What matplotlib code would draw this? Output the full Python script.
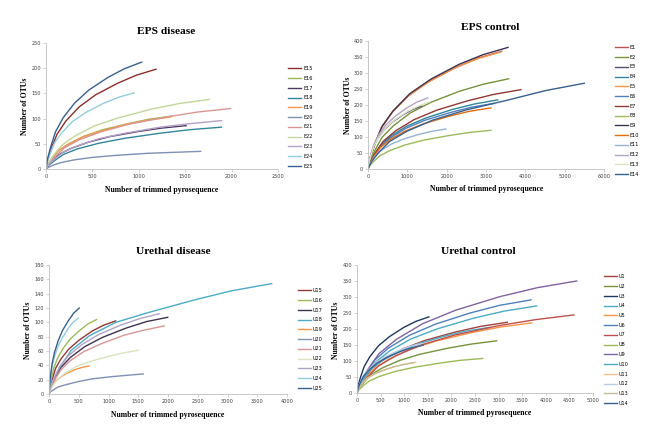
import matplotlib
matplotlib.use('Agg')
import matplotlib.pyplot as plt

# EPS disease
eps_dis_labels = ['E15', 'E16', 'E17', 'E18', 'E19', 'E20', 'E21', 'E22', 'E23', 'E24', 'E25']
eps_dis_colors = ['#8B2E2A', '#9BBB59', '#4D3B62', '#31859C', '#F79646', '#7F8FB5',
                  '#D99694', '#C3D69B', '#B3A2C7', '#93CDDD', '#376092']
eps_dis_x = [[0, 18, 59, 119, 213, 356, 533, 770, 972, 1185],
             [0, 20, 68, 136, 245, 408, 612, 884, 1115, 1360],
             [0, 23, 76, 151, 272, 453, 680, 982, 1238, 1510],
             [0, 28, 95, 189, 340, 567, 851, 1229, 1550, 1890],
             [0, 20, 67, 134, 241, 402, 603, 871, 1099, 1340],
             [0, 25, 83, 167, 300, 500, 750, 1084, 1367, 1667],
             [0, 30, 100, 199, 358, 597, 896, 1294, 1632, 1990],
             [0, 26, 88, 176, 316, 527, 790, 1141, 1440, 1756],
             [0, 28, 95, 189, 341, 568, 852, 1230, 1552, 1893],
             [0, 14, 47, 95, 171, 284, 427, 616, 777, 948],
             [0, 15, 52, 103, 186, 309, 464, 670, 845, 1031]]
eps_dis_y = [[0, 18, 42, 69, 95, 123, 147, 170, 186, 198],
             [0, 9, 22, 37, 50, 65, 78, 90, 99, 105],
             [0, 8, 18, 30, 41, 53, 64, 74, 81, 86],
             [0, 7, 17, 29, 40, 51, 61, 71, 78, 83],
             [0, 9, 22, 36, 49, 64, 76, 89, 97, 103],
             [0, 3, 8, 13, 18, 23, 27, 31, 33, 35],
             [0, 11, 25, 42, 58, 74, 89, 103, 113, 120],
             [0, 12, 29, 48, 66, 86, 102, 119, 130, 138],
             [0, 9, 20, 34, 46, 60, 71, 83, 90, 96],
             [0, 14, 32, 53, 72, 94, 112, 130, 142, 151],
             [0, 19, 45, 74, 102, 131, 157, 182, 199, 212]]

# EPS control
eps_con_labels = ['E1', 'E2', 'E3', 'E4', 'E5', 'E6', 'E7', 'E8', 'E9', 'E10', 'E11', 'E12', 'E13', 'E14']
eps_con_colors = ['#C0504D', '#77933C', '#604A7B', '#31859C', '#F79646', '#4F81BD', '#953735',
                  '#9BBB59', '#403152', '#E46C0A', '#95B3D7', '#B3A2C7', '#D7E4BD', '#376092']
eps_con_x = [[0, 51, 170, 340, 612, 1020, 1530, 2210, 2788, 3400],
             [0, 54, 179, 358, 644, 1073, 1610, 2325, 2933, 3577],
             [0, 20, 68, 137, 246, 410, 614, 887, 1119, 1365],
             [0, 49, 165, 330, 593, 989, 1484, 2143, 2704, 3297],
             [0, 51, 169, 338, 608, 1014, 1521, 2197, 2772, 3380],
             [0, 48, 160, 320, 576, 960, 1440, 2080, 2624, 3200],
             [0, 58, 195, 389, 700, 1167, 1751, 2529, 3190, 3890],
             [0, 47, 156, 313, 563, 938, 1407, 2033, 2564, 3127],
             [0, 53, 178, 356, 641, 1068, 1602, 2314, 2919, 3560],
             [0, 47, 156, 313, 563, 938, 1407, 2033, 2564, 3127],
             [0, 30, 99, 198, 357, 595, 892, 1289, 1626, 1983],
             [0, 23, 76, 152, 273, 455, 683, 986, 1244, 1517],
             [0, 23, 78, 155, 279, 465, 698, 1008, 1272, 1551],
             [0, 83, 275, 550, 990, 1650, 2475, 3575, 4510, 5500]]
eps_con_y = [[0, 33, 77, 129, 177, 228, 272, 316, 346, 368],
             [0, 25, 59, 99, 135, 175, 209, 243, 265, 282],
             [0, 18, 41, 69, 95, 122, 146, 169, 185, 197],
             [0, 19, 45, 76, 104, 134, 160, 186, 203, 216],
             [0, 33, 77, 128, 176, 227, 271, 315, 344, 366],
             [0, 18, 43, 72, 98, 127, 152, 176, 193, 205],
             [0, 22, 52, 87, 119, 154, 184, 213, 233, 248],
             [0, 11, 25, 42, 58, 75, 90, 104, 114, 121],
             [0, 34, 80, 133, 182, 236, 281, 327, 357, 380],
             [0, 17, 40, 67, 92, 118, 141, 164, 180, 191],
             [0, 11, 26, 44, 60, 78, 93, 108, 118, 125],
             [0, 20, 47, 78, 107, 138, 164, 191, 209, 222],
             [0, 19, 44, 73, 100, 130, 155, 180, 196, 209],
             [0, 22, 52, 86, 118, 153, 184, 216, 245, 268]]

# Urethal disease
ure_dis_labels = ['U15', 'U16', 'U17', 'U18', 'U19', 'U20', 'U21', 'U22', 'U23', 'U24', 'U25']
ure_dis_colors = ['#953735', '#9BBB59', '#403152', '#4BACC6', '#F79646', '#7F8FB5',
                  '#D99694', '#D7E4BD', '#B3A2C7', '#93CDDD', '#376092']
ure_dis_x = [[0, 17, 56, 112, 202, 336, 504, 728, 918, 1120],
             [0, 12, 40, 80, 144, 240, 360, 521, 657, 801],
             [0, 30, 100, 200, 359, 599, 898, 1297, 1636, 1995],
             [0, 56, 187, 374, 674, 1123, 1684, 2432, 3068, 3742],
             [0, 10, 34, 67, 121, 202, 302, 437, 551, 672],
             [0, 24, 79, 159, 285, 476, 713, 1030, 1300, 1585],
             [0, 29, 97, 194, 349, 581, 872, 1260, 1589, 1938],
             [0, 23, 75, 150, 270, 450, 675, 976, 1231, 1501],
             [0, 28, 93, 185, 333, 555, 833, 1203, 1517, 1850],
             [0, 7, 25, 49, 89, 148, 222, 320, 404, 493],
             [0, 8, 25, 51, 92, 153, 229, 331, 417, 509]]
ure_dis_y = [[0, 9, 21, 36, 49, 63, 75, 88, 96, 102],
             [0, 9, 22, 36, 50, 64, 77, 89, 98, 104],
             [0, 10, 22, 37, 51, 66, 79, 92, 101, 107],
             [0, 17, 38, 61, 81, 100, 114, 131, 144, 154],
             [0, 4, 8, 14, 19, 24, 29, 34, 37, 39],
             [0, 3, 6, 10, 13, 17, 21, 24, 26, 28],
             [0, 9, 20, 33, 46, 59, 70, 82, 89, 95],
             [0, 5, 13, 21, 29, 38, 45, 52, 57, 61],
             [0, 10, 24, 39, 54, 69, 83, 96, 105, 112],
             [0, 10, 22, 37, 51, 66, 78, 91, 100, 106],
             [0, 11, 25, 42, 58, 74, 89, 103, 113, 120]]

# Urethal control
ure_con_labels = ['U1', 'U2', 'U3', 'U4', 'U5', 'U6', 'U7', 'U8', 'U9', 'U10', 'U11', 'U12', 'U13', 'U14']
ure_con_colors = ['#A0413D', '#77933C', '#1F3864', '#4BACC6', '#F79646', '#4F81BD', '#C0504D',
                  '#9BBB59', '#8064A2', '#4BACC6', '#FAC090', '#B9CDE5', '#C4BD97', '#376092']
ure_con_x = [[0, 48, 159, 319, 573, 956, 1433, 2070, 2612, 3185],
             [0, 44, 148, 296, 533, 888, 1332, 1923, 2426, 2959],
             [0, 23, 76, 153, 275, 458, 686, 991, 1251, 1525],
             [0, 42, 140, 280, 503, 839, 1259, 1818, 2294, 2797],
             [0, 56, 185, 370, 666, 1110, 1665, 2405, 3034, 3700],
             [0, 55, 184, 369, 663, 1106, 1659, 2396, 3023, 3686],
             [0, 69, 230, 460, 827, 1379, 2069, 2988, 3770, 4597],
             [0, 40, 133, 266, 479, 799, 1198, 1731, 2184, 2663],
             [0, 70, 233, 465, 838, 1396, 2094, 3025, 3816, 4654],
             [0, 57, 190, 381, 685, 1142, 1713, 2474, 3121, 3806],
             [0, 19, 62, 124, 224, 373, 560, 809, 1020, 1244],
             [0, 21, 69, 137, 247, 411, 617, 891, 1123, 1370],
             [0, 18, 60, 120, 216, 360, 540, 780, 984, 1200],
             [0, 21, 70, 140, 252, 420, 630, 910, 1148, 1400]]
ure_con_y = [[0, 20, 46, 77, 106, 137, 164, 190, 208, 221],
             [0, 15, 34, 57, 78, 101, 121, 140, 153, 163],
             [0, 21, 50, 83, 114, 148, 176, 205, 224, 238],
             [0, 18, 43, 72, 98, 127, 152, 176, 193, 205],
             [0, 20, 46, 77, 105, 136, 162, 188, 206, 219],
             [0, 26, 61, 102, 140, 180, 215, 250, 274, 291],
             [0, 22, 51, 85, 117, 151, 181, 210, 229, 244],
             [0, 10, 23, 38, 52, 67, 80, 93, 102, 108],
             [0, 32, 74, 123, 168, 217, 259, 301, 329, 350],
             [0, 24, 57, 95, 131, 169, 201, 234, 256, 272],
             [0, 9, 20, 34, 46, 60, 71, 83, 90, 96],
             [0, 14, 33, 54, 74, 96, 115, 133, 146, 155],
             [0, 9, 20, 33, 46, 59, 70, 82, 89, 95],
             [0, 14, 32, 53, 72, 93, 111, 129, 141, 150]]

serif = ['Liberation Serif', 'DejaVu Serif']
W, H = 646, 442

fig = plt.figure(figsize=(W / 100, H / 100), dpi=100)

panels = [
    # title, labels, colors, xs, ys, axes box (px), xmax, xstep, ymax, ystep, title pos, xlabel pos, ylabel pos, legend pos
    ('EPS disease', eps_dis_labels, eps_dis_colors, eps_dis_x, eps_dis_y,
     (46, 43, 278, 169), 2500, 500, 250, 50, (166, 32), (162, 190), (25, 106), (288, 66)),
    ('EPS control', eps_con_labels, eps_con_colors, eps_con_x, eps_con_y,
     (368, 41, 604, 169), 6000, 1000, 400, 50, (490, 28), (487, 189), (348, 105), (615, 45)),
    ('Urethal disease', ure_dis_labels, ure_dis_colors, ure_dis_x, ure_dis_y,
     (49, 265, 287, 394), 4000, 500, 180, 20, (173, 252), (168, 415), (28, 330), (298, 288)),
    ('Urethal control', ure_con_labels, ure_con_colors, ure_con_x, ure_con_y,
     (357, 265, 593, 393), 5000, 500, 400, 50, (478, 252), (475, 413), (336, 330), (604, 274)),
]

for (title, labels, colors, xs, ys, box, xmax, xstep, ymax, ystep,
     tpos, xlpos, ylpos, lpos) in panels:
    x0, y0, x1, y1 = box
    ax = fig.add_axes([x0 / W, 1 - y1 / H, (x1 - x0) / W, (y1 - y0) / H])
    for lab, c, xv, yv in zip(labels, colors, xs, ys):
        ax.plot(xv, yv, color=c, lw=1.0, label=lab, solid_joinstyle='round')
    ax.set_xlim(0, xmax)
    ax.set_ylim(0, ymax)
    ax.set_xticks(range(0, xmax + 1, xstep))
    ax.set_yticks(range(0, ymax + 1, ystep))
    for s in ['top', 'right']:
        ax.spines[s].set_visible(False)
    for s in ['left', 'bottom']:
        ax.spines[s].set_color('#BFBFBF')
        ax.spines[s].set_linewidth(0.6)
    ax.tick_params(labelsize=3.6, colors='#BFBFBF', labelcolor='#404040',
                   length=2, width=0.5, pad=1.5)

    fig.text(tpos[0] / W, 1 - tpos[1] / H, title, ha='center', va='center',
             family=serif, fontweight='bold', fontsize=8.2)
    fig.text(xlpos[0] / W, 1 - xlpos[1] / H, 'Number of trimmed pyrosequence',
             ha='center', va='center', family=serif, fontweight='bold', fontsize=5.6)
    fig.text(ylpos[0] / W, 1 - ylpos[1] / H, 'Number of OTUs', rotation=90,
             ha='center', va='center', family=serif, fontweight='bold', fontsize=5.6)

    ax.legend(loc='upper left', bbox_to_anchor=(lpos[0] / W, 1 - lpos[1] / H),
              bbox_transform=fig.transFigure, frameon=False, fontsize=3.6,
              handlelength=2.6, handletextpad=0.4, labelspacing=0.95,
              borderpad=0, borderaxespad=0)

fig.savefig('out.png', dpi=100)
